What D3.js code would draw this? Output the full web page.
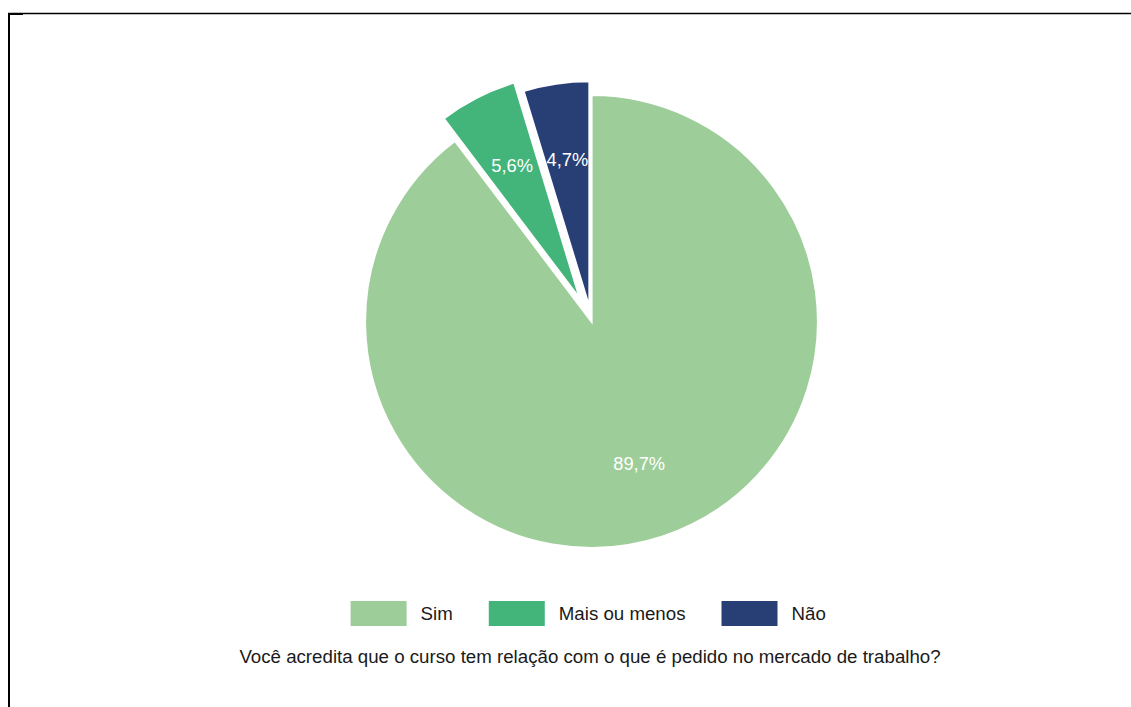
<!DOCTYPE html>
<html>
<head>
<meta charset="utf-8">
<script src="https://cdn.jsdelivr.net/npm/d3@7"></script>
<style>
  body { margin: 0; background: #fff; }
  svg { display: block; font-family: "Liberation Sans", Arial, sans-serif; }
</style>
</head>
<body>
<svg id="chart" width="1131" height="707"></svg>
<script>
const categories = ["Sim", "Mais ou menos", "Não"];
const values = [89.7, 5.6, 4.7];
const labels = ["89,7%", "5,6%", "4,7%"];
const colors = ["#9dcd99", "#43b47a", "#283f76"];
const explode = [0, 25, 14];
const title = "Você acredita que o curso tem relação com o que é pedido no mercado de trabalho?";

const W = 1131, H = 707;
const svg = d3.select("#chart");

// frame
svg.append("line").attr("x1", 8).attr("x2", 1131).attr("y1", 13.5).attr("y2", 13.5)
  .attr("stroke", "#000").attr("stroke-width", 1.3);
svg.append("line").attr("x1", 9).attr("x2", 9).attr("y1", 13).attr("y2", H)
  .attr("stroke", "#000").attr("stroke-width", 2);
svg.append("line").attr("x1", 8).attr("x2", 23).attr("y1", 14).attr("y2", 14)
  .attr("stroke", "#000").attr("stroke-width", 2);

const cx = 591.5, cy = 321.5, r = 226.5;
const data = categories.map((c, i) => ({ cat: c, value: values[i], label: labels[i], color: colors[i], off: explode[i] }));

const pie = d3.pie().value(d => d.value).sort(null);
const arc = d3.arc().innerRadius(0).outerRadius(r);
const labelArc = d3.arc().innerRadius(150).outerRadius(150);
const arcs = pie(data);

const g = svg.append("g").attr("transform", `translate(${cx},${cy})`);
const slice = g.selectAll("g.slice").data(arcs).join("g").attr("class", "slice")
  .attr("transform", d => {
    const a = (d.startAngle + d.endAngle) / 2;
    return `translate(${Math.sin(a) * d.data.off},${-Math.cos(a) * d.data.off})`;
  });
slice.append("path").attr("d", arc).attr("fill", d => d.data.color)
  .attr("stroke", "#fff").attr("stroke-width", 2.2).attr("stroke-linejoin", "miter");
slice.append("text")
  .attr("transform", d => `translate(${labelArc.centroid(d)})`)
  .attr("text-anchor", "middle").attr("dy", "0.35em")
  .attr("fill", "#fff").attr("font-size", 18.3)
  .text(d => d.data.label);

// legend
const legend = svg.append("g");
const sw = 56, sh = 25, gapText = 14, gapItem = 36;
let x = 0;
data.forEach(d => {
  const it = legend.append("g");
  it.append("rect").attr("x", 0).attr("y", 0).attr("width", sw).attr("height", sh).attr("fill", d.color);
  const t = it.append("text").attr("x", sw + gapText).attr("y", sh / 2).attr("dy", "0.35em")
    .attr("font-size", 18.7).attr("fill", "#1a1a1a").text(d.cat);
  const tw = t.node().getComputedTextLength();
  it.attr("transform", `translate(${x},0)`);
  x += sw + gapText + tw + gapItem;
});
const totalW = x - gapItem;
legend.attr("transform", `translate(${588.2 - totalW / 2},601)`);

svg.append("text").attr("x", 590).attr("y", 663).attr("text-anchor", "middle")
  .attr("font-size", 18.7).attr("fill", "#1a1a1a").text(title);
</script>
</body>
</html>
